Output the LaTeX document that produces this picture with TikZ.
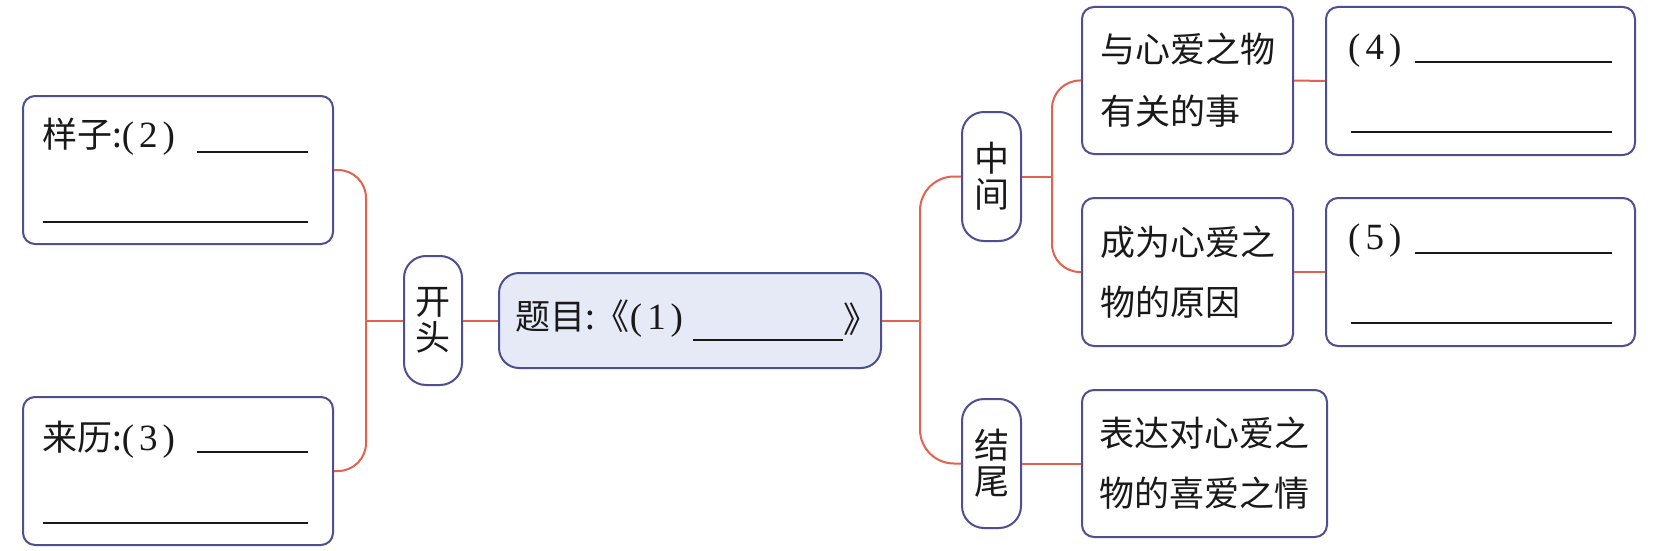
\documentclass[tikz,border=0pt]{standalone}
\usepackage{fontspec}
\setmainfont{Noto Sans CJK SC}
\newfontfamily\serf{Liberation Serif}
\definecolor{bordc}{RGB}{78,78,146}
\definecolor{connc}{RGB}{226,98,78}
\definecolor{centfill}{RGB}{230,234,247}
\definecolor{inkc}{RGB}{25,25,25}
\newcommand\pnum[1]{{\serf\fontsize{37}{37}\selectfont(\kern5pt #1\kern5pt)}}
\tikzset{
  box/.style={draw=bordc, line width=2pt, rounded corners=12pt, fill=white, inner sep=0pt},
  pill/.style={box, rounded corners=22pt, align=center, font=\fontsize{35}{36}\selectfont},
  conn/.style={draw=connc, line width=2pt},
  uline/.style={draw=inkc, line width=2pt},
  txt/.style={inner sep=0pt, text=inkc, font=\fontsize{35}{62}\selectfont},
}
\begin{document}
\begin{tikzpicture}[x=1pt,y=-1pt]
\useasboundingbox[fill=white] (0,0) rectangle (1663,551);

% left boxes
\node[box, minimum width=310pt, minimum height=148pt] (yz) at (178,170) {};
\node[box, minimum width=310pt, minimum height=148pt] (lz) at (178,471) {};
\node[txt, anchor=west] (yzt) at (42,137) {样子:\pnum{2}};
\node[txt, anchor=west] (lzt) at (42,440) {来历:\pnum{3}};
\draw[uline] (197,152) -- (308,152);
\draw[uline] (43,222) -- (308,222);
\draw[uline] (197,452) -- (308,452);
\draw[uline] (43,523) -- (308,523);

% opening pill
\node[pill, text=inkc, minimum width=58pt, minimum height=129pt] (kt) at (433,320.5) {开\\头};

% central title
\node[box, fill=centfill, rounded corners=20pt, minimum width=382pt, minimum height=95pt] (tm) at (690,320.5) {};
\node[txt, anchor=west] (tmt) at (515,319) {题目:《\pnum{1}};
\draw[uline] (693,340) -- (843,340);
\node[txt, anchor=west] (tmr) at (843,319) {》};

% middle / end pills
\node[pill, text=inkc, minimum width=59pt, minimum height=129pt] (zj) at (991.5,176.5) {中\\间};
\node[pill, text=inkc, minimum width=59pt, minimum height=129pt] (jw) at (991.5,463.5) {结\\尾};

% right boxes
\node[box, txt, align=left, minimum width=211pt, minimum height=147pt] (a1) at (1187.5,80.5) {与心爱之物\\有关的事};
\node[box, txt, align=left, font=\fontsize{35}{60}\selectfont, minimum width=211pt, minimum height=148pt] (a2) at (1187.5,272) {成为心爱之\\物的原因};
\node[box, txt, align=left, font=\fontsize{35}{60}\selectfont, minimum width=245pt, minimum height=147pt] (c1) at (1204.5,463.5) {表达对心爱之\\物的喜爱之情};

\node[box, minimum width=309pt, minimum height=148pt] (b1) at (1480.5,81) {};
\node[box, minimum width=309pt, minimum height=148pt] (b2) at (1480.5,272) {};
\node[txt, anchor=west] (b1t) at (1348,51) {\pnum{4}};
\node[txt, anchor=west] (b2t) at (1348,241) {\pnum{5}};
\draw[uline] (1415,62) -- (1612,62);
\draw[uline] (1351,132) -- (1612,132);
\draw[uline] (1415,253) -- (1612,253);
\draw[uline] (1351,323) -- (1612,323);

% connectors
\draw[conn] (kt.west) -- ++(-37,0) coordinate (j0);
\draw[conn, rounded corners=28pt] (j0) |- (yz.east);
\draw[conn, rounded corners=28pt] (j0) |- (lz.east);
\draw[conn] (kt.east) -- (tm.west);
\draw[conn] (tm.east) -- ++(38,0) coordinate (j1);
\draw[conn, rounded corners=34pt] (j1) |- (zj.west);
\draw[conn, rounded corners=34pt] (j1) |- (jw.west);
\draw[conn] (zj.east) -- ++(30,0) coordinate (j2);
\draw[conn, rounded corners=28pt] (j2) |- (a1.west);
\draw[conn, rounded corners=28pt] (j2) |- (a2.west);
\draw[conn] (a1.east) -- (b1.west);
\draw[conn] (a2.east) -- (b2.west);
\draw[conn] (jw.east) -- (c1.west);
\end{tikzpicture}
\end{document}
